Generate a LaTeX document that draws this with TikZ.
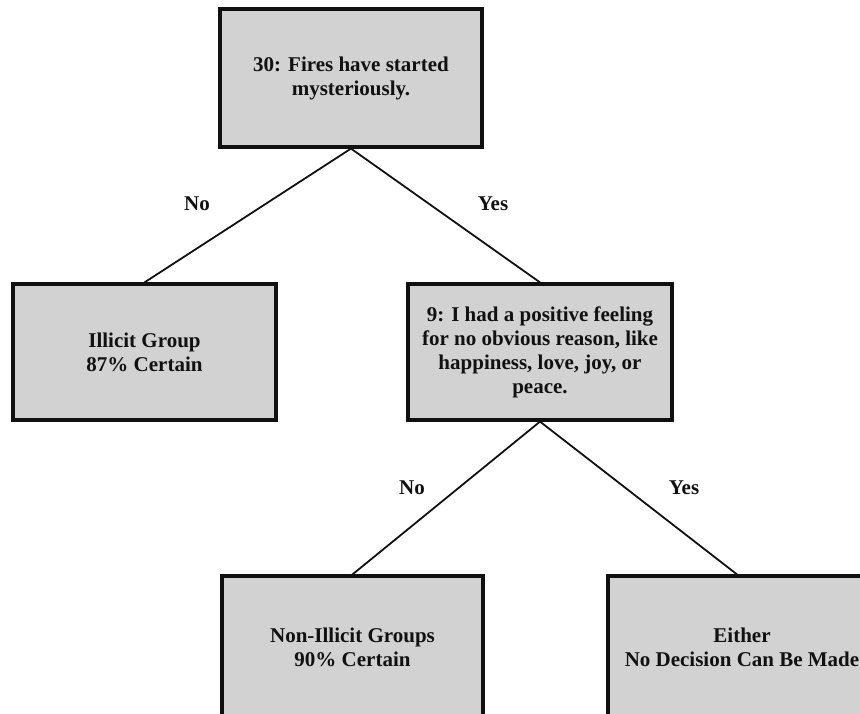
\documentclass[tikz,border=0pt]{standalone}
\usepackage{fontspec}
\setmainfont{Liberation Serif}
\definecolor{boxgray}{HTML}{D2D2D2}
\definecolor{ink}{HTML}{111111}
\tikzset{
  treebox/.style={draw=ink, fill=boxgray, line width=3.2pt, rectangle,
    minimum width=262pt, minimum height=136pt, align=center, inner sep=0pt,
    text=ink, font=\fontsize{21}{24}\selectfont\bfseries},
  branch/.style={draw=ink, line width=1.8pt},
  edgelabel/.style={text=ink, font=\fontsize{21}{24}\selectfont\bfseries, inner sep=0pt}
}
\begin{document}
\begin{tikzpicture}[x=1pt,y=-1pt]
\useasboundingbox (0,0) rectangle (860,713);
\clip (0,0) rectangle (860,713);
\node[treebox, minimum height=138pt] (q30) at (351,78) {30: Fires have started\\mysteriously.};
\node[treebox, minimum width=263pt] (illicit) at (144.5,352) {Illicit Group\\87\% Certain};
\node[treebox, minimum width=264pt] (q9) at (540,352) {9: I had a positive feeling\\for no obvious reason, like\\happiness, love, joy, or\\peace.};
\node[treebox, minimum width=261pt, minimum height=142pt] (nonillicit) at (352.5,647) {Non-Illicit Groups\\90\% Certain};
\node[treebox, minimum width=268pt, minimum height=142pt] (either) at (742,647) {Either\\No Decision Can Be Made};
\draw[branch] (q30.south) -- (illicit.north);
\draw[branch] (q30.south) -- (q9.north);
\draw[branch] (q9.south) -- ([xshift=-5pt]either.north);
\draw[branch] (q9.south) -- (nonillicit.north);
\node[edgelabel] (no1) at (197,204) {No};
\node[edgelabel] (yes1) at (493,204) {Yes};
\node[edgelabel] (no2) at (412,488) {No};
\node[edgelabel] (yes2) at (684,488) {Yes};
\end{tikzpicture}
\end{document}
